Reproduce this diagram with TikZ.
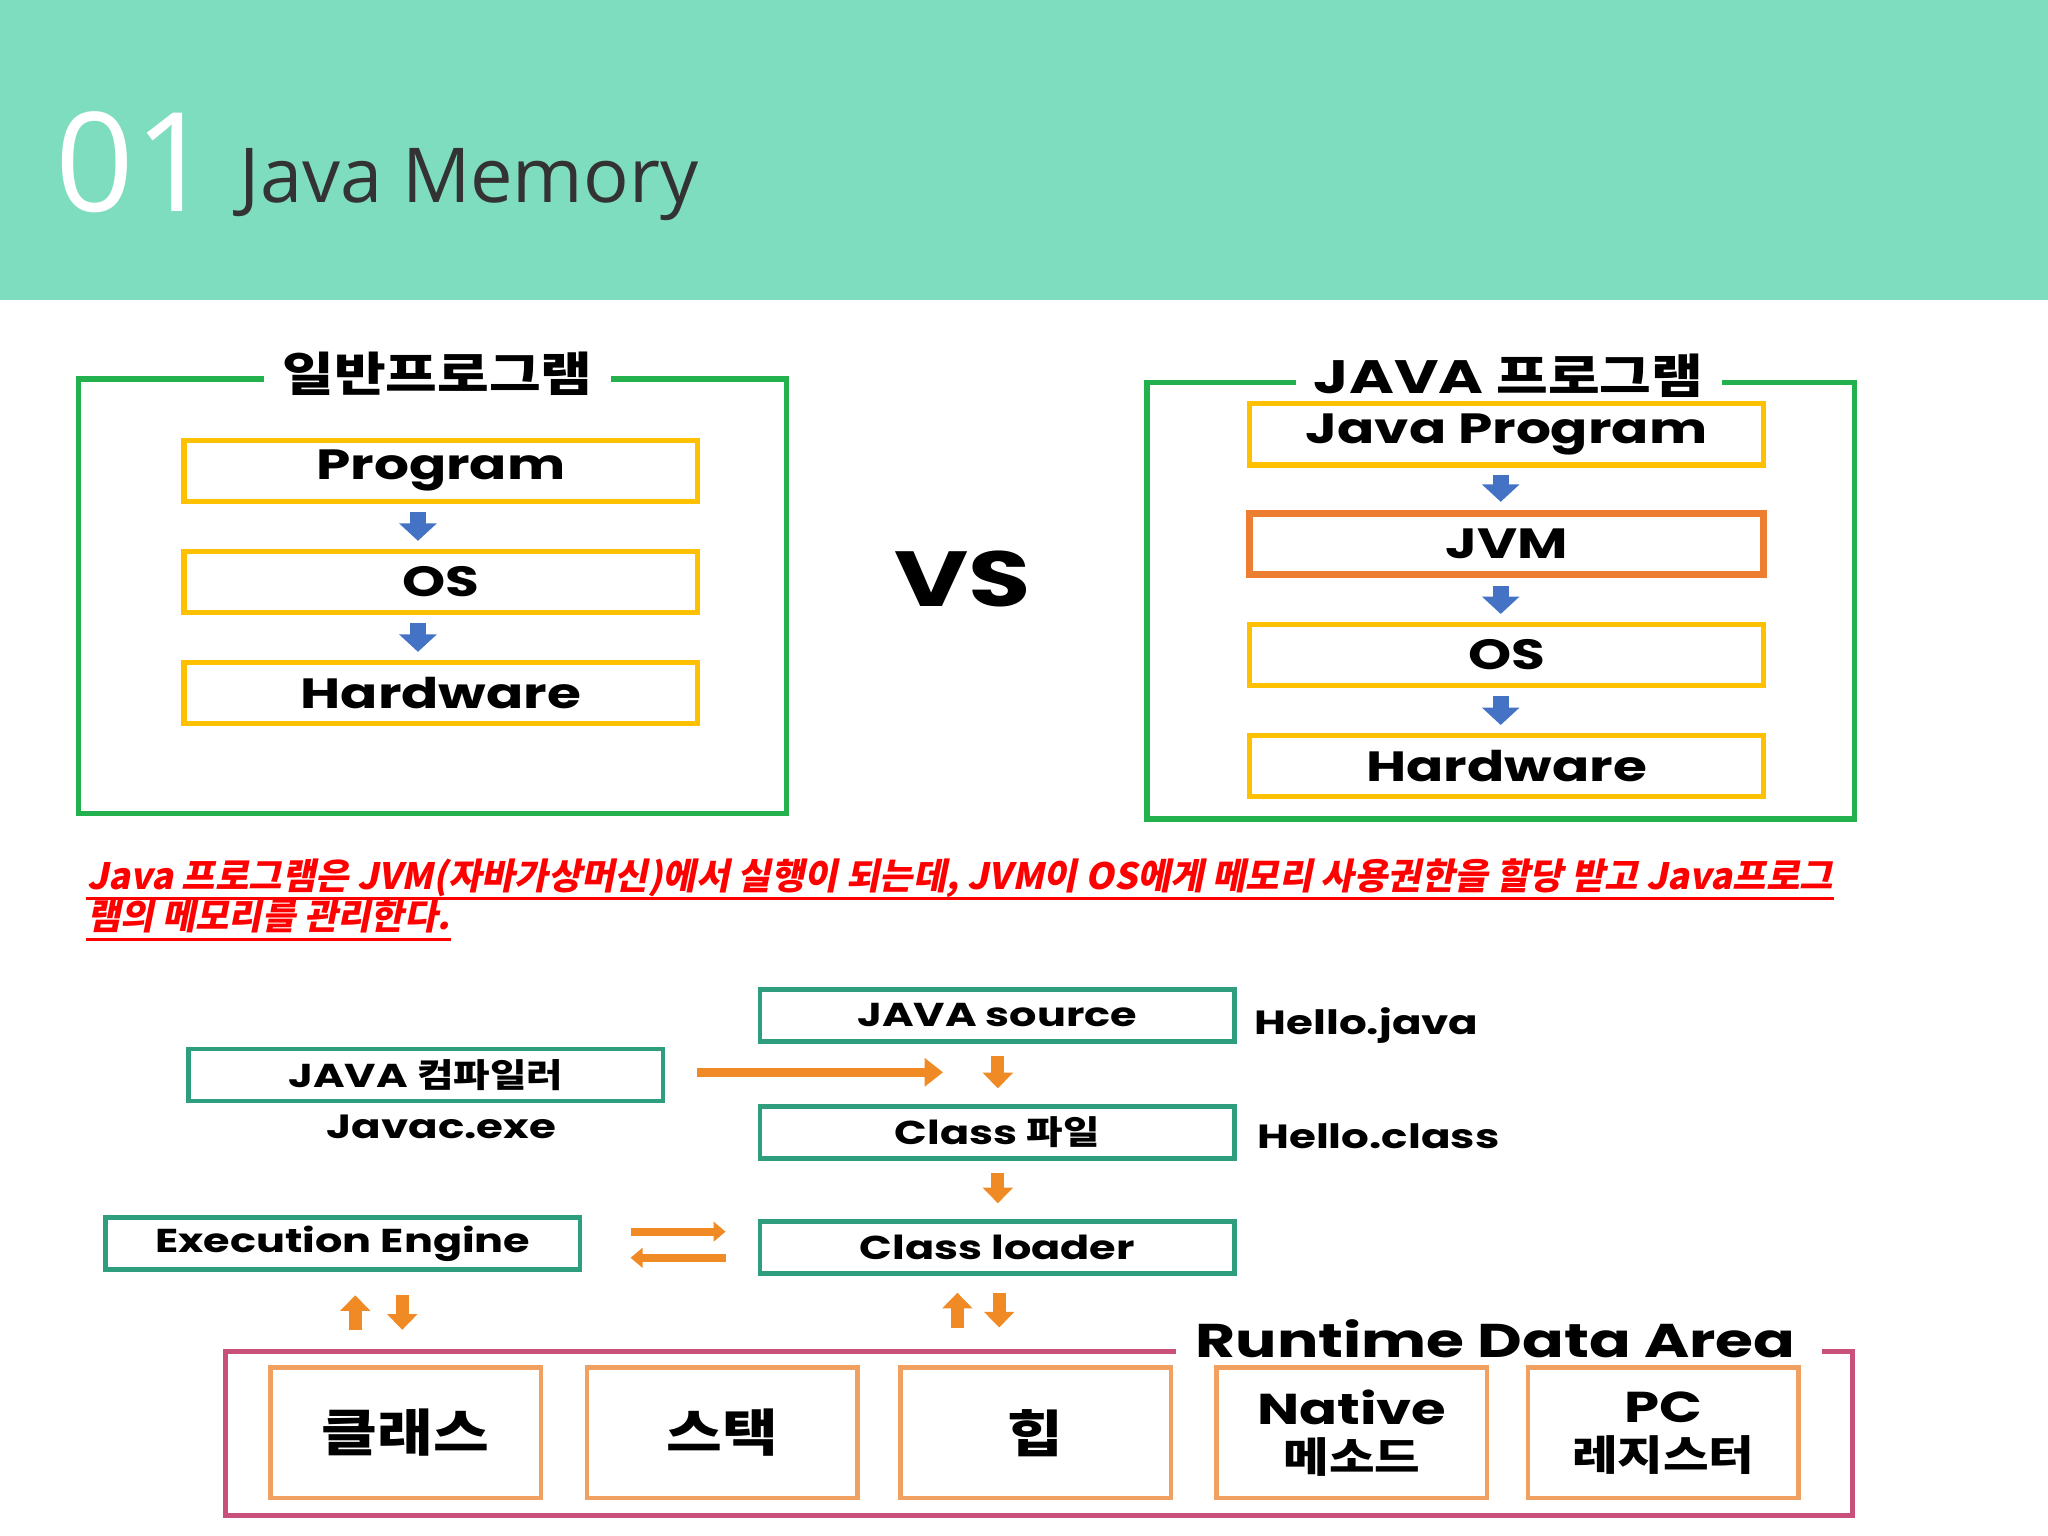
\documentclass[tikz,border=0pt]{standalone}
\usepackage{fontspec}
\setmainfont{Poppins}[FakeStretch=1.3]
\newfontfamily\kr{Noto Sans CJK KR}[FakeStretch=1.2]
\newfontfamily\krit{Noto Sans CJK KR}[FakeSlant=0.2]
\newfontfamily\lightf{Open Sans}
\usetikzlibrary{arrows.meta}
\definecolor{band}{HTML}{7FDDBF}
\definecolor{frame}{HTML}{22B14C}
\definecolor{ybox}{HTML}{FFC000}
\definecolor{obox}{HTML}{ED7D31}
\definecolor{barrow}{HTML}{4472C4}
\definecolor{oarrow}{HTML}{F08A24}
\definecolor{teal}{HTML}{2E9E7E}
\definecolor{rda}{HTML}{C8507A}
\definecolor{cell}{HTML}{F0A060}
\tikzset{
  yb/.style={draw=ybox,line width=1.1pt,minimum width=3.93cm,minimum height=0.47cm,
    font=\fontsize{9.2}{10}\selectfont\bfseries,inner sep=0pt},
  tb/.style={draw=teal,line width=1pt,minimum width=3.63cm,minimum height=0.4cm,
    font=\fontsize{7.2}{8}\selectfont\bfseries,inner sep=0pt},
  cb/.style={draw=cell,line width=1pt,minimum width=2.07cm,minimum height=1cm,
    font=\fontsize{9.4}{9.5}\selectfont\bfseries,align=center,inner sep=0pt},
  ba/.style={barrow,line width=3.4pt,-{Triangle[length=3.8pt,width=8pt]},
    shorten <=1.7pt,shorten >=1.7pt},
  oa/.style={oarrow,line width=2.8pt,-{Triangle[length=3.4pt,width=6.4pt]}},
  thin oa/.style={oarrow,line width=1.8pt,-{Triangle[length=2.6pt,width=4.2pt]}},
  lbl/.style={font=\fontsize{7.3}{8}\selectfont\bfseries,inner sep=0pt},
  ttl/.style={fill=white,inner xsep=4pt,font=\fontsize{10.2}{11}\selectfont\bfseries},
  red line/.style={anchor=base west,inner sep=0pt,red,font=\krit\fontsize{7.9}{10}\selectfont\bfseries},
}
\begin{document}
\begin{tikzpicture}[x=0.01cm,y=-0.01cm]
\useasboundingbox (0,0) rectangle (1568,1176);
\fill[white] (0,0) rectangle (1568,1176);
\fill[band] (0,0) rectangle (1568,230);
\node[white,anchor=base west,inner sep=0pt,font=\lightf\fontsize{30}{30}\selectfont] (num) at (42,162) {01};
\node[black!80,anchor=base west,inner sep=0pt,font=\lightf\fontsize{16.5}{17}\selectfont] (title) at (183,155) {Java Memory};

% left frame
\draw[frame,line width=1.2pt] (60,290) rectangle (602,623);
\node[ttl] (lt) at (335,286) {\kr\bfseries 일반프로그램};
\node[yb] (lp) at (337.5,360.5) {Program};
\node[yb] (lo) at (337.5,445.5) {OS};
\node[yb] (lh) at (337.5,530.5) {Hardware};
\coordinate (lx) at (320,0);
\draw[ba] (lp.south -| lx) -- (lo.north -| lx);
\draw[ba] (lo.south -| lx) -- (lh.north -| lx);

\node[font=\fontsize{17}{18}\selectfont\bfseries] (vs) at (737,443) {VS};

% right frame
\draw[frame,line width=1.2pt] (878,293) rectangle (1420,627);
\node[ttl] (rt) at (1155,288) {JAVA {\kr\bfseries 프로그램}};
\node[yb] (rp) at (1153.5,332.5) {Java Program};
\node[yb,draw=obox,line width=1.6pt] (rj) at (1153.5,416.5) {JVM};
\node[yb] (ro) at (1153.5,501.5) {OS};
\node[yb] (rh) at (1153.5,586.5) {Hardware};
\coordinate (rx) at (1149,0);
\draw[ba] (rp.south -| rx) -- (rj.north -| rx);
\draw[ba] (rj.south -| rx) -- (ro.north -| rx);
\draw[ba] (ro.south -| rx) -- (rh.north -| rx);

% red text
\node[red line] (rl1) at (66,681)
 {Java 프로그램은 JVM(자바가상머신)에서 실행이 되는데, JVM이 OS에게 메모리 사용권한을 할당 받고 Java프로그};
\node[red line] (rl2) at (66,712) {램의 메모리를 관리한다.};
\draw[red,line width=0.6pt] ([yshift=-2pt]rl1.base west) -- ([yshift=-2pt]rl1.base east);
\draw[red,line width=0.6pt] ([yshift=-2pt]rl2.base west) -- ([yshift=-2pt]rl2.base east);

% bottom diagram
\node[tb] (src) at (763.5,777.5) {JAVA source};
\node[lbl,anchor=west] (hj) at (960,785) {Hello.java};
\node[tb] (jc) at (326,823) {JAVA {\kr\bfseries 컴파일러}};
\node[lbl] (jx) at (338,863) {Javac.exe};
\coordinate (je) at (722,821);
\draw[oarrow,line width=2pt,-{Triangle[length=4pt,width=6pt]},shorten <=7pt] (jc.east |- je) -- (je);
\node[tb] (cf) at (763.5,867) {Class {\kr\bfseries 파일}};
\node[lbl,anchor=west] (hc) at (962,870) {Hello.class};
\node[tb] (ee) at (262.5,952) {Execution Engine};
\node[tb] (cl) at (763.5,955) {Class loader};
\coordinate (dx) at (764,0);
\draw[oa,shorten <=2.6pt,shorten >=3.4pt] (src.south -| dx) -- (cf.north -| dx);
\draw[oa,shorten <=2.6pt,shorten >=3.4pt] (cf.south -| dx) -- (cl.north -| dx);
\coordinate (h1) at (0,943);
\coordinate (h2) at (0,963);
\draw[thin oa,shorten <=10.5pt,shorten >=7pt] (ee.east |- h1) -- (cl.west |- h1);
\draw[thin oa,shorten <=7pt,shorten >=10.5pt] (cl.west |- h2) -- (ee.east |- h2);

\draw[rda,line width=1.1pt] (900,1035) -- (173,1035) -- (173,1160) -- (1418,1160) -- (1418,1035) -- (1395,1035);
\node[font=\fontsize{10.3}{11}\selectfont\bfseries,inner sep=0pt] (rt2) at (1145,1025) {Runtime Data Area};
\node[cb] (c1) at (310.5,1097) {\kr\bfseries\fontsize{11}{11}\selectfont 클래스};
\node[cb] (c2) at (553,1097) {\kr\bfseries\fontsize{11}{11}\selectfont 스택};
\node[cb] (c3) at (793,1097) {\kr\bfseries\fontsize{11}{11}\selectfont 힙};
\node[cb] (c4) at (1035,1097) {Native\\[1pt]{\kr\bfseries\fontsize{9}{9}\selectfont 메소드}};
\node[cb] (c5) at (1273.5,1097) {PC\\[1pt]{\kr\bfseries\fontsize{9}{9}\selectfont 레지스터}};

\coordinate (u1) at (272,0);
\coordinate (v1) at (308,0);
\coordinate (u2) at (733,0);
\coordinate (v2) at (765,0);
\draw[oa,shorten <=7.7pt,shorten >=5.1pt] (c1.north -| u1) -- (ee.south -| u1);
\draw[oa,shorten <=5.1pt,shorten >=7.7pt] (ee.south -| v1) -- (c1.north -| v1);
\draw[oa,shorten <=8.2pt,shorten >=3.7pt] (c3.north -| u2) -- (cl.south -| u2);
\draw[oa,shorten <=3.7pt,shorten >=8.2pt] (cl.south -| v2) -- (c3.north -| v2);
\end{tikzpicture}
\end{document}
